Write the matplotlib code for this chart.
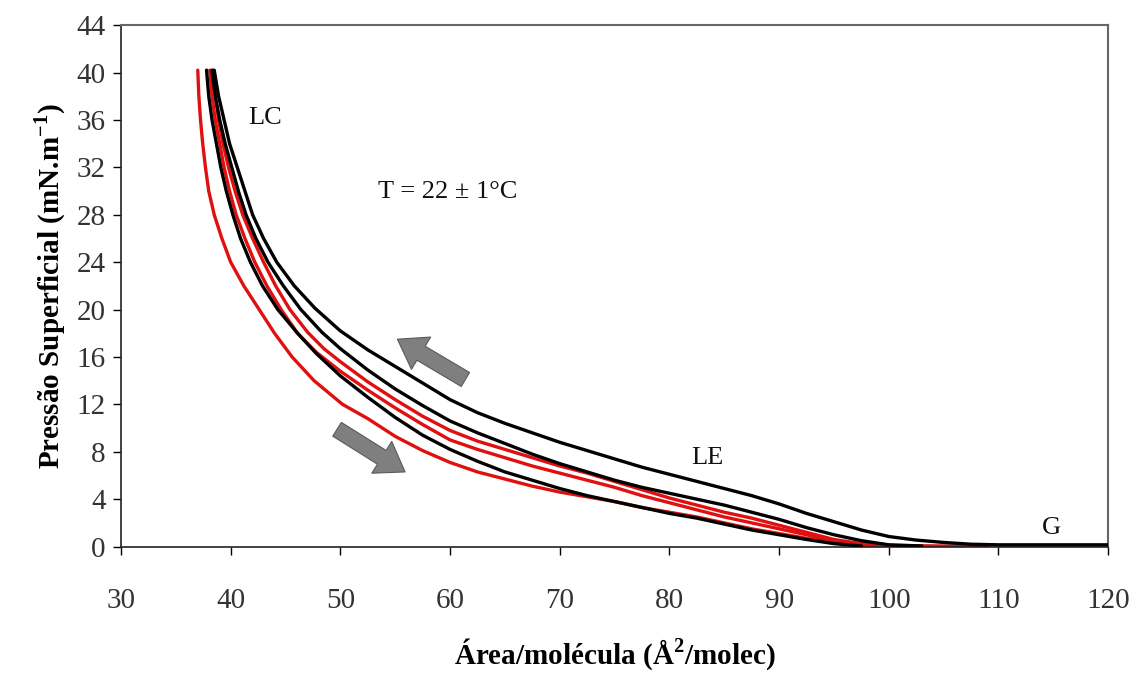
import matplotlib
matplotlib.use("Agg")
import matplotlib.pyplot as plt

plt.rcParams['font.family'] = ['Liberation Serif', 'DejaVu Serif']
plt.rcParams['mathtext.fontset'] = 'custom'
plt.rcParams['mathtext.rm'] = 'Liberation Serif'
plt.rcParams['mathtext.bf'] = 'Liberation Serif:bold'

# ---- data ----
# black, outer compression curve
b1_x = [38.5, 38.9, 39.4, 39.9, 40.6, 41.3, 42.0, 43.0, 44.2, 45.8, 47.7, 50.0, 52.5, 55.0, 57.5, 60.0, 62.5, 65.0, 67.5, 70.0, 72.5, 75.0, 77.5, 80.0, 82.5, 85.0, 87.5, 90.0, 92.5, 95.0, 97.5, 100.0, 102.5, 105.0, 107.5, 110.0, 120.0]
b1_y = [40.2, 38.0, 36.0, 34.0, 32.0, 30.0, 28.0, 26.0, 24.0, 22.0, 20.1, 18.2, 16.6, 15.2, 13.8, 12.4, 11.3, 10.4, 9.6, 8.8, 8.1, 7.4, 6.7, 6.1, 5.5, 4.9, 4.3, 3.6, 2.8, 2.1, 1.4, 0.85, 0.55, 0.35, 0.2, 0.15, 0.15]

# black, second curve
b2_x = [38.3, 38.6, 39.0, 39.5, 40.1, 40.7, 41.4, 42.3, 43.4, 44.8, 46.4, 48.3, 50.0, 52.5, 55.0, 57.5, 60.0, 62.5, 65.0, 67.5, 70.0, 72.5, 75.0, 77.5, 80.0, 82.5, 85.0, 87.5, 90.0, 92.5, 95.0, 97.5, 100.0, 103.0]
b2_y = [40.2, 38.0, 36.0, 34.0, 32.0, 30.0, 28.0, 26.0, 24.0, 22.0, 20.0, 18.1, 16.7, 14.9, 13.3, 11.9, 10.6, 9.6, 8.7, 7.8, 7.0, 6.3, 5.6, 5.0, 4.5, 4.0, 3.5, 2.9, 2.3, 1.6, 1.0, 0.5, 0.15, 0.05]

# black, lower curve
b3_x = [37.8, 38.0, 38.3, 38.7, 39.1, 39.6, 40.2, 40.9, 41.8, 42.9, 44.3, 46.1, 47.8, 50.0, 52.5, 55.0, 57.5, 60.0, 62.5, 65.0, 67.5, 70.0, 72.5, 75.0, 77.5, 80.0, 82.5, 85.0, 87.5, 90.0, 92.5, 95.0, 97.5]
b3_y = [40.2, 38.0, 36.0, 34.0, 32.0, 30.0, 28.0, 26.0, 24.0, 22.0, 20.0, 18.0, 16.3, 14.4, 12.6, 10.9, 9.4, 8.2, 7.2, 6.3, 5.6, 4.9, 4.3, 3.8, 3.3, 2.8, 2.4, 1.9, 1.4, 1.0, 0.6, 0.25, 0.05]

# red, upper curve
r1_x = [38.4, 38.6, 38.9, 39.3, 39.8, 40.4, 41.1, 42.0, 43.0, 44.1, 45.4, 47.0, 48.5, 50.0, 52.5, 55.0, 57.5, 60.0, 62.5, 65.0, 67.5, 70.0, 72.5, 75.0, 77.5, 80.0, 82.5, 85.0, 87.5, 90.0, 92.5, 95.0, 97.5, 100.0, 105.0, 109.0]
r1_y = [40.2, 38.0, 36.0, 34.0, 32.0, 30.0, 28.0, 26.0, 24.0, 22.0, 20.0, 18.1, 16.7, 15.6, 13.9, 12.4, 11.0, 9.8, 8.9, 8.2, 7.5, 6.8, 6.2, 5.5, 4.8, 4.1, 3.5, 2.9, 2.4, 1.8, 1.2, 0.6, 0.25, 0.1, 0.05, 0.05]

# red, middle curve
r2_x = [38.1, 38.3, 38.6, 39.0, 39.4, 39.9, 40.5, 41.3, 42.2, 43.3, 44.6, 46.1, 47.8, 50.0, 52.5, 55.0, 57.5, 60.0, 62.5, 65.0, 67.5, 70.0, 72.5, 75.0, 77.5, 80.0, 82.5, 85.0, 87.5, 90.0, 92.5, 95.0, 97.5, 100.0]
r2_y = [40.2, 38.0, 36.0, 34.0, 32.0, 30.0, 28.0, 26.0, 24.0, 22.0, 20.0, 18.0, 16.4, 14.8, 13.2, 11.7, 10.3, 9.0, 8.2, 7.5, 6.8, 6.2, 5.6, 5.0, 4.3, 3.7, 3.1, 2.5, 2.0, 1.5, 1.0, 0.45, 0.15, 0.05]

# red, lowest curve
r3_x = [37.0, 37.1, 37.25, 37.45, 37.7, 38.0, 38.5, 39.2, 40.0, 41.2, 42.6, 44.0, 45.6, 47.6, 50.2, 52.5, 55.0, 57.5, 60.0, 62.5, 65.0, 67.5, 70.0, 72.5, 75.0, 77.5, 80.0, 82.5, 85.0, 87.5, 90.0, 92.5, 95.0, 97.5, 100.0]
r3_y = [40.2, 38.0, 36.0, 34.0, 32.0, 30.0, 28.0, 26.0, 24.0, 22.0, 20.0, 18.0, 16.0, 14.0, 12.0, 10.8, 9.3, 8.1, 7.1, 6.3, 5.7, 5.1, 4.6, 4.2, 3.8, 3.3, 2.9, 2.5, 2.0, 1.5, 1.1, 0.7, 0.35, 0.1, 0.05]

x_ticks = [30, 40, 50, 60, 70, 80, 90, 100, 110, 120]
y_ticks = [0, 4, 8, 12, 16, 20, 24, 28, 32, 36, 40, 44]

labels_text = ["LC", "T = 22 ± 1°C", "LE", "G"]
labels_x = [43.1, 59.8, 83.5, 114.8]
labels_y = [36.2, 29.9, 7.5, 1.6]

# ---- figure ----
fig = plt.figure(figsize=(11.36, 6.79), dpi=100)
ax = fig.add_axes([0.1065, 0.195, 0.869, 0.768])

red = '#e01010'
lw = 2.4
kw = dict(lw=lw, solid_joinstyle='round', solid_capstyle='round')
ax.plot(r3_x, r3_y, color=red, zorder=2, **kw)
ax.plot(r2_x, r2_y, color=red, zorder=2, **kw)
ax.plot(b3_x, b3_y, color='black', zorder=3, **kw)
ax.plot(r1_x, r1_y, color=red, zorder=2, **kw)
ax.plot(b2_x, b2_y, color='black', zorder=3, **kw)
ax.plot(b1_x, b1_y, color='black', zorder=3, **kw)

ax.set_xlim(30, 120)
ax.set_ylim(0, 44)
ax.set_xticks(x_ticks)
ax.set_yticks(y_ticks)
ax.tick_params(direction='out', length=6, width=1.0, labelsize=21,
               labelcolor='#333333')
ax.tick_params(axis='x', pad=24)
ax.tick_params(axis='y', pad=5)
for s in ['left', 'bottom']:
    ax.spines[s].set_color('#222222')
    ax.spines[s].set_linewidth(1.2)
for s in ['top', 'right']:
    ax.spines[s].set_color('#666666')
    ax.spines[s].set_linewidth(1.5)

ax.set_xlabel(r'Área/molécula (Å$^{\mathbf{2}}$/molec)', fontsize=21,
              fontweight='bold', labelpad=16)
ax.set_ylabel(r'Pressão Superficial (mN.m$^{\mathbf{-1}}$)', fontsize=21,
              fontweight='bold', labelpad=6)

for t, x, y in zip(labels_text, labels_x, labels_y):
    ax.text(x, y, t, fontsize=19, ha='center', va='center', color='#111111')

arrow_style = 'simple,head_length=1.1,head_width=1.5,tail_width=0.65'
ax.annotate('', xy=(55.2, 17.5), xytext=(61.4, 14.1),
            arrowprops=dict(arrowstyle=arrow_style, fc='#7f7f7f', ec='#5a5a5a',
                            lw=0.8, mutation_scale=18, shrinkA=0, shrinkB=0))
ax.annotate('', xy=(55.9, 6.3), xytext=(49.7, 9.9),
            arrowprops=dict(arrowstyle=arrow_style, fc='#7f7f7f', ec='#5a5a5a',
                            lw=0.8, mutation_scale=18, shrinkA=0, shrinkB=0))

fig.savefig('out.png', dpi=100)
